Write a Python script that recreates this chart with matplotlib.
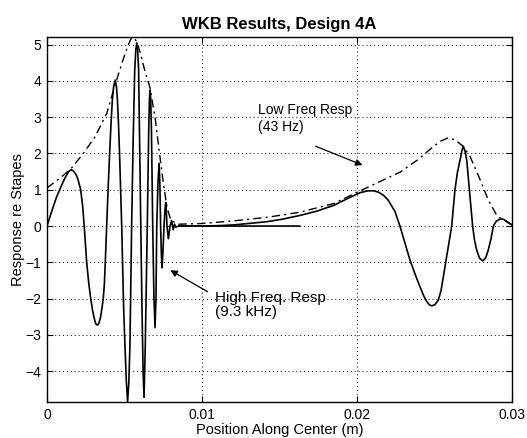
import matplotlib.pyplot as plt

# High frequency response (9.3 kHz)
hf_x = [0, 0.0002, 0.0004, 0.0006, 0.0008, 0.001, 0.0012, 0.0014, 0.00155,
        0.0017, 0.0019, 0.002, 0.0021, 0.00217, 0.0023, 0.0024,
        0.00256, 0.0027, 0.00282, 0.00295, 0.00305, 0.00315, 0.00325,
        0.00335, 0.00346, 0.00355, 0.00363, 0.0037, 0.00376, 0.00385,
        0.00395, 0.00404, 0.00414, 0.00422, 0.0043, 0.0044, 0.00448, 0.00454,
        0.00461, 0.00468, 0.00475, 0.00482,
        0.00494, 0.00503, 0.00512, 0.0052, 0.00528, 0.00535, 0.00546,
        0.00556, 0.00566, 0.00573, 0.00579, 0.00585, 0.00591, 0.00605,
        0.00613, 0.0062, 0.00626, 0.00634, 0.00647,
        0.00656, 0.00661, 0.00665, 0.00669, 0.00674, 0.00682,
        0.0069, 0.00697, 0.00703, 0.00708,
        0.00716, 0.00723, 0.00728, 0.00733,
        0.00738, 0.00742, 0.00747, 0.00755,
        0.00761, 0.00766, 0.0077, 0.00774, 0.00783, 0.00794, 0.00804,
        0.00814, 0.00823, 0.0083, 0.0085, 0.0163]
hf_y = [0, 0.27, 0.53, 0.78, 0.98, 1.18, 1.36, 1.5, 1.55,
        1.52, 1.4, 1.28, 1.12, 1.0, 0.55, 0,
        -1.0, -1.6, -2.0, -2.35, -2.55, -2.7, -2.73,
        -2.68, -2.5, -2.25, -2.0, -1.6, -1.0, 0,
        1.1, 2.0, 2.9, 3.5, 3.85, 4.02, 3.85, 3.5,
        2.85, 2.0, 1.0, 0,
        -2.2, -3.3, -4.3, -4.85, -4.3, -3.3, 0,
        2.4, 4.3, 4.85, 5.05, 4.85, 4.3, 0,
        -2.3, -4.0, -4.72, -3.3, 0,
        2.6, 3.5, 3.75, 3.5, 2.6, 0,
        -2.0, -2.8, -2.0, 0,
        1.2, 1.73, 1.2, 0,
        -0.8, -1.15, -0.8, 0,
        0.45, 0.65, 0.4, 0, -0.35, 0, 0.15,
        -0.1, 0.05, -0.03, 0, 0]

# Low frequency response (43 Hz)
lf_x = [0.0085, 0.01, 0.011, 0.012, 0.013, 0.0142, 0.0152, 0.0163, 0.0174,
        0.0185, 0.0195, 0.0202, 0.0207, 0.0211, 0.0214, 0.0217, 0.022,
        0.02245, 0.02277, 0.0231, 0.02342, 0.02375, 0.02406, 0.0243,
        0.0245, 0.02467, 0.02482, 0.02502, 0.02525, 0.02542, 0.02557,
        0.02573, 0.02589, 0.02611, 0.02632, 0.02648, 0.02665, 0.02677,
        0.02686, 0.02696, 0.02708, 0.02725, 0.02746, 0.02758, 0.02772,
        0.0279, 0.02811, 0.0283, 0.02847, 0.02865, 0.0288, 0.02896, 0.02912,
        0.02929, 0.02948, 0.02966, 0.02984, 0.03]
lf_y = [0, 0.0, 0.01, 0.03, 0.07, 0.12, 0.19, 0.29, 0.41,
        0.57, 0.78, 0.92, 0.97, 0.97, 0.93, 0.85, 0.72,
        0.4, 0, -0.48, -0.94, -1.33, -1.67, -1.92,
        -2.08, -2.17, -2.2, -2.17, -2.04, -1.78, -1.4,
        -0.98, -0.57, 0, 1.0, 1.48, 1.82, 2.08,
        2.2, 2.08, 1.82, 1.0, 0, -0.38, -0.66,
        -0.88, -0.96, -0.88, -0.66, -0.34, 0, 0.12, 0.17,
        0.2, 0.18, 0.12, 0.07, 0.03]

# Envelope (dash-dot)
env_x = [0, 0.00084, 0.00155, 0.00234, 0.0031, 0.00385, 0.0044, 0.00492,
         0.0052, 0.00546, 0.00565, 0.00579, 0.006, 0.0063, 0.00665, 0.007,
         0.00723, 0.0075, 0.00775, 0.008, 0.0085, 0.01, 0.012, 0.0142, 0.0163,
         0.0185, 0.0202, 0.0217, 0.0228, 0.0239, 0.0249, 0.0254, 0.02587,
         0.0263, 0.02684, 0.02729, 0.02794, 0.02847, 0.02901, 0.0293, 0.0297,
         0.03]
env_y = [1.05, 1.32, 1.58, 2.0, 2.46, 3.1, 3.9, 4.6,
         4.95, 5.2, 5.18, 5.07, 4.8, 4.3, 3.8, 2.9,
         2.1, 1.2, 0.5, 0.15, 0.05, 0.07, 0.14, 0.24, 0.38,
         0.62, 0.97, 1.27, 1.49, 1.82, 2.18, 2.34, 2.43,
         2.38, 2.2, 1.92, 1.28, 0.72, 0.3, 0.2, 0.12,
         0.03]

x_ticks = [0, 0.01, 0.02, 0.03]
x_labels = ['0', '0.01', '0.02', '0.03']
y_ticks = [-4, -3, -2, -1, 0, 1, 2, 3, 4, 5]

plt.rcParams['font.family'] = ['Liberation Sans', 'DejaVu Sans']

fig = plt.figure(figsize=(5.27, 4.38), dpi=100)
ax = fig.add_axes([47 / 527, 36 / 438, 465 / 527, 365 / 438])

ax.plot(hf_x, hf_y, color='black', linewidth=1.2)
ax.plot(lf_x, lf_y, color='black', linewidth=1.2)
ax.plot(env_x, env_y, color='black', linewidth=1.0,
        linestyle=(0, (6, 3, 1.5, 3)))

ax.set_xlim(0, 0.03)
ax.set_ylim(-4.85, 5.21)
ax.set_xticks(x_ticks)
ax.set_xticklabels(x_labels)
ax.set_yticks(y_ticks)
ax.tick_params(direction='in', labelsize=10, length=4, top=True, right=True,
               labeltop=False, labelright=False, pad=4)
ax.grid(True, color='black', linestyle=(0, (1, 3)), linewidth=0.7)
for s in ax.spines.values():
    s.set_linewidth(1.0)

ax.set_title('WKB Results, Design 4A', fontsize=12, fontweight='bold', pad=6)
ax.set_xlabel('Position Along Center (m)', fontsize=10.5, labelpad=1)
ax.set_ylabel('Response re Stapes', fontsize=10.5)
ax.yaxis.set_label_coords(-0.047, 0.5)

# annotations
ax.annotate('', xy=(0.02052, 1.65), xytext=(0.01716, 2.23),
            arrowprops=dict(arrowstyle='-|>', color='black', lw=0.9,
                            mutation_scale=10))
ax.text(0.0136, 2.97, 'Low Freq Resp\n(43 Hz)', fontsize=10,
        va='center', ha='left', linespacing=1.3)

ax.annotate('', xy=(0.0078, -1.18), xytext=(0.01052, -1.85),
            arrowprops=dict(arrowstyle='-|>', color='black', lw=0.9,
                            mutation_scale=10))
ax.text(0.01085, -2.18, 'High Freq. Resp\n(9.3 kHz)', fontsize=11,
        va='center', ha='left', linespacing=1.0)

fig.savefig('out.png', dpi=100)
plt.close()
